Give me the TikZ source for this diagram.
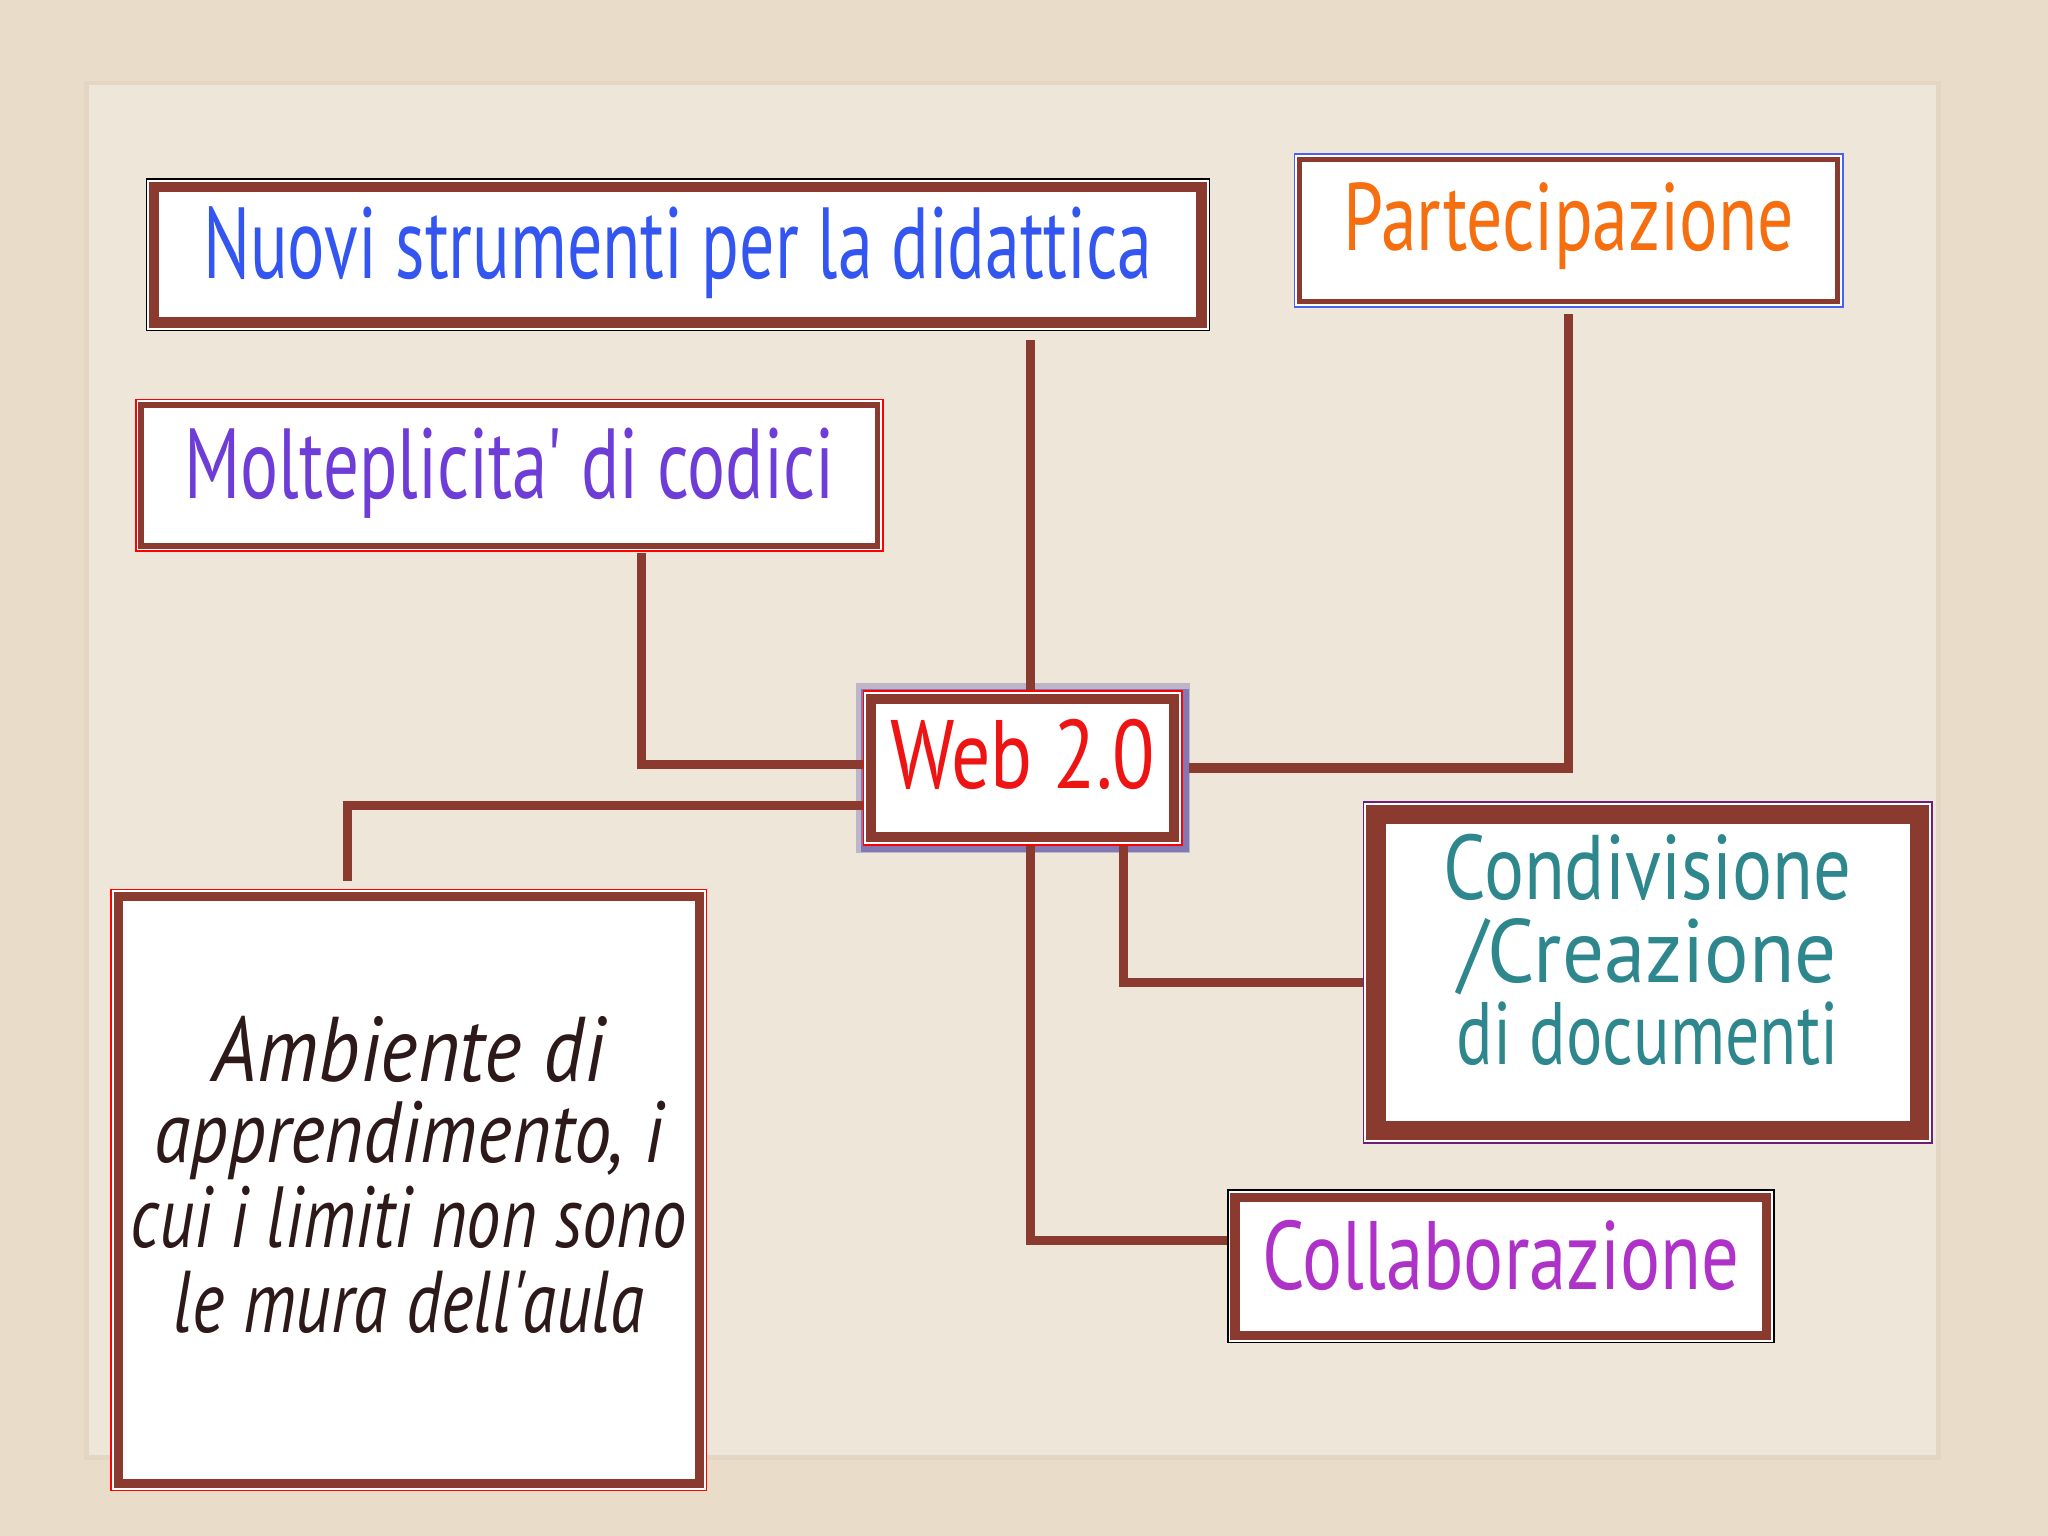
\documentclass[tikz,border=0pt]{standalone}
\usepackage{fontspec}
\newfontfamily\pt{PT Sans}
\usepackage{graphicx}
\usetikzlibrary{calc}
\definecolor{paper}{RGB}{233,220,200}
\definecolor{card}{RGB}{238,230,217}
\definecolor{cardedge}{RGB}{228,214,194}
\definecolor{brn}{RGB}{139,58,48}
\definecolor{cblue}{RGB}{52,86,240}
\definecolor{corange}{RGB}{245,110,15}
\definecolor{cpurple}{RGB}{110,60,215}
\definecolor{cred}{RGB}{238,20,20}
\definecolor{cteal}{RGB}{45,135,140}
\definecolor{cmag}{RGB}{175,50,200}
\definecolor{cdark}{RGB}{45,25,25}
\definecolor{glowc}{RGB}{80,70,165}
\definecolor{olblue}{RGB}{70,100,235}
\definecolor{olpurple}{RGB}{110,30,120}
% #1 width, #2 height, #3 raise of baseline, #4 colour, #5 text
\newcommand\tl[5]{\makebox[0pt]{\smash{\raisebox{#3}{\resizebox{#1}{#2}{\color{#4}#5}}}}}
\tikzset{
  box/.style 2 args={draw=#1, line width=0.12mm, fill=white, inner sep=0pt, font=\pt,
    path picture={
      \draw[brn, line width=#2*0.1mm]
      ([shift={(#2*0.05mm+0.2mm,#2*0.05mm+0.2mm)}]path picture bounding box.south west) rectangle
      ([shift={(-#2*0.05mm-0.2mm,-#2*0.05mm-0.2mm)}]path picture bounding box.north east);}},
  conn/.style={draw=brn, line width=0.7mm},
}
\begin{document}
\begin{tikzpicture}[x=0.1mm,y=-0.1mm]
\useasboundingbox (0,0) rectangle (1568,1176);
\fill[paper] (0,0) rectangle (1568,1176);
\fill[cardedge] (64,62) rectangle (1486,1118);
\fill[card] (68,65) rectangle (1482,1114);

\node[box={black}{8}, minimum width=81.4mm, minimum height=11.6mm] (nuovi) at (519,195)
  {\tl{72.7mm}{5.5mm}{-1.8mm}{cblue}{Nuovi strumenti per la didattica}};
\node[box={olblue}{4}, minimum width=42mm, minimum height=11.7mm] (part) at (1201,176.5)
  {\tl{34.5mm}{5.2mm}{-1.55mm}{corange}{Partecipazione}};
\node[box={red}{4}, minimum width=57.2mm, minimum height=11.6mm] (molt) at (390,364)
  {\tl{49.7mm}{5.4mm}{-1.8mm}{cpurple}{Molteplicita' di codici}};
\node[box={red}{8}, minimum width=24.4mm, minimum height=11.8mm,
      preaction={draw=glowc, line width=1.2mm, opacity=0.3},
      preaction={draw=glowc, line width=0.7mm, opacity=0.55, transform canvas={shift={(0.15mm,-0.2mm)}}}] (web) at (783,588)
  {\tl{20.3mm}{5.3mm}{-1.6mm}{cred}{Web 2.0}};
\node[box={olpurple}{15}, minimum width=43.5mm, minimum height=26.1mm] (cond) at (1261.5,744.5)
  {\tl{31.2mm}{5.0mm}{5.6mm}{cteal}{Condivisione}%
   \tl{29mm}{4.9mm}{-0.75mm}{cteal}{/Creazione}%
   \tl{29.2mm}{4.8mm}{-7.05mm}{cteal}{di documenti}};
\node[box={black}{7}, minimum width=41.8mm, minimum height=11.7mm] (coll) at (1149,969.5)
  {\tl{36.5mm}{5.3mm}{-1.75mm}{cmag}{Collaborazione}};
\node[box={red}{7}, minimum width=45.6mm, minimum height=46mm] (amb) at (313,911)
  {\itshape\tl{30mm}{5mm}{8.3mm}{cdark}{Ambiente di}%
   \tl{39mm}{4.7mm}{2.1mm}{cdark}{apprendimento, i}%
   \tl{42.6mm}{4.7mm}{-4.4mm}{cdark}{cui i limiti non sono}%
   \tl{36mm}{4.7mm}{-10.9mm}{cdark}{le mura dell'aula}};

\coordinate (xA) at (789,0);
\coordinate (xB) at (491,0);
\coordinate (xC) at (266,0);
\coordinate (xD) at (860,0);

\draw[conn] ([yshift=-0.7mm]nuovi.south -| xA) -- (web.north -| xA);
\draw[conn] ([yshift=-0.5mm]part.south) |- ([xshift=0.5mm]web.east);
\draw[conn] ([yshift=-0.1mm]molt.south -| xB) |- ([yshift=0.3mm]web.west);
\draw[conn] ([yshift=0.6mm]amb.north -| xC) |- ([yshift=-2.9mm]web.west);
\draw[conn] (web.south -| xD) |- ([yshift=-0.75mm]cond.west);
\draw[conn] (web.south -| xA) |- ([yshift=1.95mm]coll.west);
\end{tikzpicture}
\end{document}
